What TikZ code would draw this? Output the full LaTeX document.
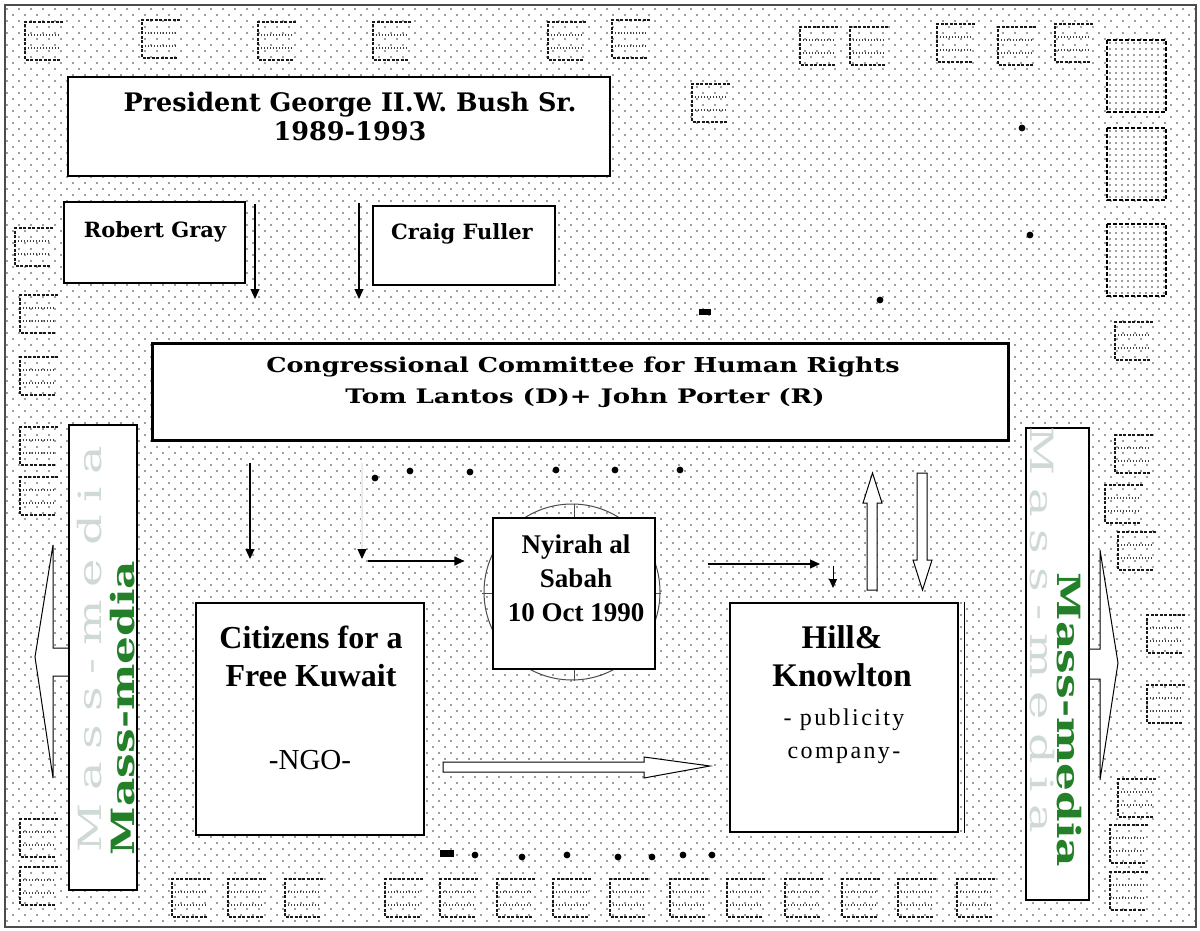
\documentclass[tikz,border=0pt]{standalone}
\usepackage{fontspec}
\setmainfont{Liberation Serif}
\newfontfamily\wideserif{DejaVu Serif}
\newfontfamily\comfont[FakeStretch=1.24]{DejaVu Serif}
\newfontfamily\comfontb[FakeStretch=1.3]{DejaVu Serif}
\newfontfamily\mediafont[FakeStretch=1.37]{DejaVu Serif}
\newfontfamily\ghostfont[FakeStretch=1.5,LetterSpace=40]{DejaVu Serif}
\newfontfamily\spacedserif[LetterSpace=10]{Liberation Serif}
\usetikzlibrary{arrows.meta}
\definecolor{mediagreen}{RGB}{36,128,40}
\definecolor{ghostgray}{RGB}{208,218,212}
\definecolor{dotgray}{RGB}{60,60,60}
\tikzset{
  box/.style={draw,fill=white,line width=1.2pt,inner sep=0pt},
  heavybox/.style={box,line width=2.6pt},
  arr/.style={line width=1.2pt,-{Triangle[length=10pt,width=9pt]}},
  hollow/.style={draw,fill=white,line width=1pt,line join=miter},
  bgdots/.style={line width=1.7pt,line cap=round,dash pattern=on 0pt off 12pt,dotgray},
  iconline/.style={line width=1.1pt,dash pattern=on 3pt off 1.5pt,black!90},
  icondots/.style={line width=1.3pt,dash pattern=on 1.2pt off 1.8pt,black!75},
}
\begin{document}
\begin{tikzpicture}[x=1pt,y=-1pt,font=\fontsize{24}{28}\selectfont]
  \useasboundingbox (0,0) rectangle (1200,931);
  \fill[white] (0,0) rectangle (1200,931);
  \foreach \y in {9,21,...,921}{
    \draw[bgdots] (7,\y) -- (1199,\y);
    \draw[bgdots] (13,\y+6) -- (1199,\y+6);
  }
  \draw[line width=2pt,black!70] (5,5) rectangle (1196,927);
  \foreach \x/\y in {25/20,142/18,258/20,373/20,548/20,612/18,692/82,800/25,850/25,937/22,998/25,1055/22,
                     15/226,20/293,20/355,20/425,20/475,20/817,20/865,
                     1115/320,1115/433,1105/483,1118/530,1147/613,1147/683,1118/777,1110/823,1110/870,
                     172/877,228/877,285/877,385/877,440/877,497/877,553/877,610/877,670/877,727/877,785/877,842/877,898/877,957/877}{
    \draw[iconline] (\x+38,\y+2) -- (\x,\y+2) -- (\x,\y+40) -- (\x+36,\y+40);
    \draw[icondots] (\x+3,\y+15) -- (\x+34,\y+15);
    \draw[icondots] (\x+3,\y+28) -- (\x+34,\y+28);
  }
  \foreach \t in {40,128,224}{
    \fill[white] (1107,\t) rectangle (1166,\t+72);
    \foreach \r in {3,9,...,69}{
      \draw[bgdots,dash pattern=on 0pt off 6pt] (1110,\t+\r) -- (1165,\t+\r);
    }
    \draw[line width=1.2pt,dash pattern=on 4pt off 2pt] (1107,\t) rectangle (1166,\t+72);
  }
  \foreach \x/\y in {375/478,410/471,470/472,556/470,615/470,680/470,880/300,1030/235,1022/128,
                     475/855,522/857,567/855,618/857,652/857,683/855,712/855,1030/830}{
    \fill (\x,\y) circle (3.4);
  }
  \fill (440,850) rectangle (454,857);
  \fill (699,309) rectangle (711,315);

  \node[box,minimum width=542,minimum height=99] (bush) at (339,126.5) {};
  \node[font=\wideserif\bfseries\fontsize{25.5}{29}\selectfont,align=center] (bushtxt) at (350,116) {President George II.W. Bush Sr.\\1989-1993};
  \node[box,minimum width=181,minimum height=81] (gray) at (154.5,242.5) {};
  \node[font=\wideserif\bfseries\fontsize{21}{25}\selectfont] (graytxt) at (155,232) {Robert Gray};
  \node[box,minimum width=182,minimum height=79] (fuller) at (464,245.5) {};
  \node[font=\wideserif\bfseries\fontsize{21}{25}\selectfont] (fullertxt) at (462,234) {Craig Fuller};

  \node[box,line width=3pt,minimum width=856,minimum height=97] (congress) at (580,391.5) {};
  \node[font=\comfont\bfseries\fontsize{20.5}{24}\selectfont] (congtxt) at (583,367) {Congressional Committee for Human Rights};
  \node[font=\comfontb\bfseries\fontsize{20}{24}\selectfont] (lantos) at (585,398) {Tom Lantos (D)+ John Porter (R)};

  \draw[black!70,line width=1pt] (572,592) circle (88);
  \node[box,minimum width=162,minimum height=151] (nyirah) at (574,593.5) {};
  \draw[black!70,line width=1pt] (nyirah.north) -- ++(0,-13) (nyirah.west) -- ++(-10,0)
    (nyirah.east) -- ++(5,0) (nyirah.south) -- ++(0,11);
  \node[font=\bfseries\fontsize{27}{34}\selectfont,align=center] (nyirahtxt) at (576,578) {Nyirah al\\Sabah\\10 Oct 1990};

  \node[heavybox,minimum width=228,minimum height=232] (citizens) at (310,719) {};
  \node[font=\bfseries\fontsize{32}{38}\selectfont,align=center] (citizenstxt) at (311,656) {Citizens for a\\Free Kuwait};
  \node[font=\fontsize{29}{34}\selectfont] (ngo) at (310,760) {-NGO-};

  \node[heavybox,minimum width=228,minimum height=229] (hill) at (844,717.5) {};
  \draw[line width=1pt] ([xshift=5pt]hill.north east) -- ([xshift=5pt]hill.south east);
  \node[font=\bfseries\fontsize{33}{38}\selectfont,align=center] (hilltxt) at (842,656) {Hill\&\\Knowlton};
  \node[font=\spacedserif\fontsize{24}{33}\selectfont,align=center] (pubtxt) at (844,736) {- publicity\\company-};

  \coordinate (p1) at (255,204); \coordinate (q1) at (255,299);
  \coordinate (p2) at (359,203); \coordinate (q2) at (359,299);
  \coordinate (p3) at (250,463); \coordinate (q3) at (250,559);
  \coordinate (p4) at (362,463); \coordinate (q4) at (362,559);
  \coordinate (p5) at (368,561); \coordinate (p6) at (708,564); \coordinate (q6) at (820,564);
  \coordinate (p7) at (833,566); \coordinate (q7) at (833,588);
  \draw[arr] (p1) -- (q1);
  \draw[arr] (p2) -- (q2);
  \draw[arr] (p3) -- (q3);
  \draw[line width=1.2pt,white!92!black,-{Triangle[length=10pt,width=9pt,black]}] (p4) -- (q4);
  \draw[arr] (p5) -- ([xshift=-28pt]nyirah.west |- p5);
  \draw[arr] (p6) -- (q6);
  \draw[line width=1pt,-{Triangle[length=9pt,width=8pt]}] (p7) -- (q7);

  \draw[hollow] (443,762) -- (644,762) -- (644,757) -- (710,766) -- (644,778) -- (644,772) -- (443,772) -- cycle;
  \draw[hollow] (867,590) -- (867,503) -- (863,503) -- (872.5,473) -- (882,503) -- (877,503) -- (877,590) -- cycle;
  \draw[hollow] (917,473) -- (927,473) -- (927,560) -- (932,560) -- (922.5,590) -- (913,560) -- (917,560) -- cycle;

  \draw[hollow] (100,648) -- (53,648) -- (53,545) -- (35,657) -- (53,778) -- (53,676) -- (100,676);
  \draw[hollow] (1080,649) -- (1100,649) -- (1100,550) -- (1118,663) -- (1100,780) -- (1100,679) -- (1080,679);
  \node[box,line width=1.5pt,minimum width=68,minimum height=465] (leftmedia) at (103,657.5) {};
  \node[box,line width=1.5pt,minimum width=63,minimum height=472] (rightmedia) at (1057.5,664) {};
  \node[font=\ghostfont\fontsize{32}{36}\selectfont,ghostgray,rotate=90] (leftghost) at (90,649) {Mass-media};
  \node[font=\mediafont\bfseries\fontsize{32}{36}\selectfont,mediagreen,rotate=90] (lefttxt) at (123,708) {Mass-media};
  \node[font=\ghostfont\fontsize{32}{36}\selectfont,ghostgray,rotate=-90] (rightghost) at (1042,630) {Mass-media};
  \node[font=\mediafont\bfseries\fontsize{32}{36}\selectfont,mediagreen,rotate=-90] (righttxt) at (1069,720) {Mass-media};
\end{tikzpicture}
\end{document}
